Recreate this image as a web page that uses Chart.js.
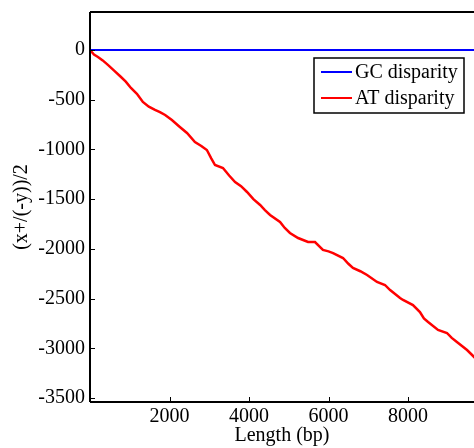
<!DOCTYPE html>
<html>
<head>
<meta charset="utf-8">
<script src="https://cdn.jsdelivr.net/npm/chart.js@4"></script>
<style>
  html, body { margin: 0; padding: 0; background: #fff; overflow: hidden; }
  #wrap { width: 474px; height: 448px; position: relative; }
</style>
</head>
<body>
<div id="wrap"><canvas id="disparityChart"></canvas></div>
<script>
// position along the sequence (bp)
const lengthBp = [0, 100, 200, 320, 450, 600, 780, 900, 1030, 1180, 1330, 1480, 1635, 1760, 1890, 2060,
  2260, 2440, 2640, 2800, 2940, 3050, 3145, 3345, 3500, 3650, 3800, 3950, 4110, 4280, 4400, 4530,
  4780, 4900, 5030, 5235, 5485, 5660, 5860, 6000, 6115, 6365, 6500, 6615, 6800, 6970, 7220,
  7420, 7550, 7800, 7875, 8125, 8300, 8400, 8505, 8755, 8980, 9100, 9230, 9485, 9690];
// cumulative disparities
const atDisparity = [0, -45, -70, -105, -150, -205, -272, -318, -382, -440, -523, -570, -603, -625, -654, -705,
  -774, -835, -925, -965, -1006, -1090, -1157, -1187, -1262, -1328, -1370, -1428, -1500, -1559, -1610, -1659,
  -1730, -1790, -1840, -1891, -1931, -1931, -2011, -2025, -2042, -2092, -2150, -2192, -2225, -2263, -2333,
  -2363, -2414, -2494, -2514, -2565, -2635, -2700, -2736, -2816, -2846, -2895, -2937, -3017, -3098];
const gcDisparity = [0, 0, 0, 0, 0, 0, 0, 0, 0, 0, 0, 0, 0, 0, 0, 0,
  0, 0, 0, 0, 0, 0, 0, 0, 0, 0, 0, 0, 0, 0, 0, 0,
  0, 0, 0, 0, 0, 0, 0, 0, 0, 0, 0, 0, 0, 0, 0,
  0, 0, 0, 0, 0, 0, 0, 0, 0, 0, 0, 0, 0, 0];

const xTicks = [2000, 4000, 6000, 8000];
const yTicks = [0, -500, -1000, -1500, -2000, -2500, -3000, -3500];

const serif = "'Liberation Serif', 'DejaVu Serif', serif";

const toPoints = ys => ys.map((y, i) => ({ x: lengthBp[i], y: y }));

// MATLAB style frame: inward ticks, top border, boxed legend
const matlabFrame = {
  id: 'matlabFrame',
  afterDraw(chart) {
    const ctx = chart.ctx;
    const { left, right, top, bottom } = chart.chartArea;
    const xs = chart.scales.x, ys = chart.scales.y;
    ctx.save();
    ctx.strokeStyle = '#000';
    ctx.lineWidth = 1;
    xTicks.forEach(v => {
      const px = Math.round(xs.getPixelForValue(v)) + 0.5;
      ctx.beginPath(); ctx.moveTo(px, bottom); ctx.lineTo(px, bottom - 5); ctx.stroke();
    });
    yTicks.forEach(v => {
      const py = Math.round(ys.getPixelForValue(v)) + 0.5;
      ctx.beginPath(); ctx.moveTo(left, py); ctx.lineTo(left + 5, py); ctx.stroke();
    });
    // axes lines
    ctx.lineWidth = 2;
    ctx.beginPath();
    ctx.moveTo(left, top); ctx.lineTo(right + 2, top);
    ctx.moveTo(left, top); ctx.lineTo(left, bottom);
    ctx.moveTo(left, bottom); ctx.lineTo(right + 2, bottom);
    ctx.stroke();

    // legend
    const bx = 314, by = 58, bw = 150, bh = 55;
    ctx.fillStyle = '#fff';
    ctx.fillRect(bx, by, bw, bh);
    ctx.lineWidth = 1.5;
    ctx.strokeRect(bx, by, bw, bh);
    ctx.font = '20px ' + serif;
    ctx.textBaseline = 'middle';
    chart.data.datasets.forEach((ds, i) => {
      const ly = 72 + i * 26;
      ctx.strokeStyle = ds.borderColor;
      ctx.lineWidth = 2;
      ctx.beginPath(); ctx.moveTo(321, ly); ctx.lineTo(352, ly); ctx.stroke();
      ctx.fillStyle = '#000';
      ctx.fillText(ds.label, 355, ly + 1);
    });
    ctx.restore();
  }
};

new Chart(document.getElementById('disparityChart'), {
  type: 'line',
  data: {
    datasets: [
      { label: 'GC disparity', data: toPoints(gcDisparity), borderColor: '#0000ff', borderWidth: 2, pointRadius: 0, tension: 0 },
      { label: 'AT disparity', data: toPoints(atDisparity), borderColor: '#ff0000', borderWidth: 2.5, pointRadius: 0, tension: 0 }
    ]
  },
  options: {
    responsive: true,
    maintainAspectRatio: false,
    animation: false,
    layout: { padding: { top: 12, right: 0, left: 0, bottom: 0 } },
    plugins: { legend: { display: false }, tooltip: { enabled: false } },
    scales: {
      x: {
        type: 'linear',
        min: 0,
        max: 9660,
        grid: { display: false, drawTicks: false },
        border: { display: false },
        afterBuildTicks: s => { s.ticks = xTicks.map(v => ({ value: v })); },
        afterFit: s => { s.height = 46; s.paddingLeft = 0; s.paddingRight = 0; },
        ticks: { color: '#000', padding: 3, maxRotation: 0, font: { family: serif, size: 20 },
          callback: v => String(v) },
        title: { display: true, text: 'Length (bp)', color: '#000', padding: { top: 0, bottom: 0 }, font: { family: serif, size: 20 } }
      },
      y: {
        min: -3540,
        max: 382,
        grid: { display: false, drawTicks: false },
        border: { display: false },
        afterBuildTicks: s => { s.ticks = yTicks.map(v => ({ value: v })); },
        afterFit: s => { s.width = 90; s.paddingTop = 0; s.paddingBottom = 0; },
        ticks: { color: '#000', padding: 5, font: { family: serif, size: 20 },
          callback: v => String(v) },
        title: { display: true, text: '(x+/(-y))/2', color: '#000', padding: { top: 10, bottom: 0 }, font: { family: serif, size: 20 } }
      }
    }
  },
  plugins: [matlabFrame]
});
</script>
</body>
</html>
